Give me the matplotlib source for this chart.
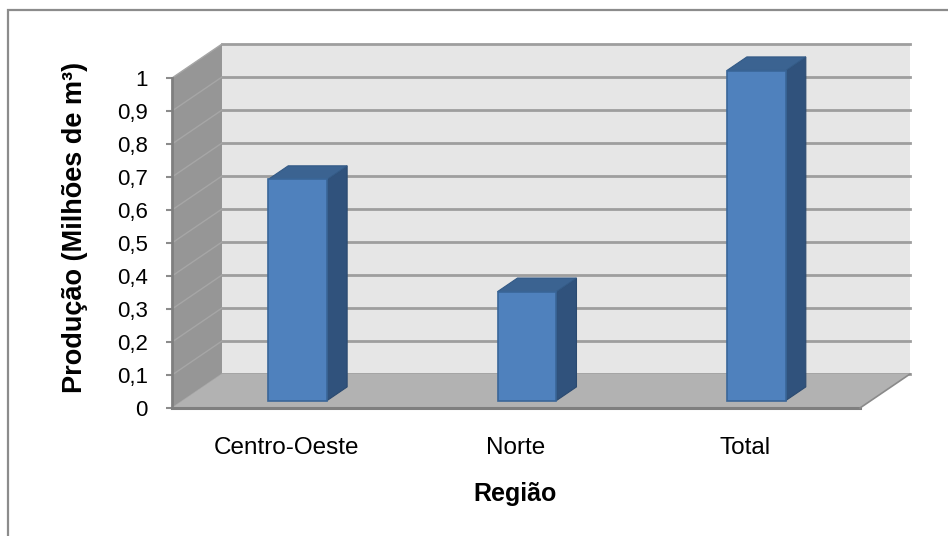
import matplotlib
matplotlib.use("Agg")
import matplotlib.pyplot as plt
from matplotlib.patches import Polygon, Rectangle

plt.rcParams['font.family'] = ['Liberation Sans', 'DejaVu Sans']

categories = ["Centro-Oeste", "Norte", "Total"]
values = [0.67, 0.33, 1.0]
yticks = [0, 0.1, 0.2, 0.3, 0.4, 0.5, 0.6, 0.7, 0.8, 0.9, 1.0]
ytick_labels = ["0", "0,1", "0,2", "0,3", "0,4", "0,5", "0,6", "0,7", "0,8", "0,9", "1"]
y_label = "Produção (Milhões de m³)"
x_label = "Região"

W, H = 948, 536
fig = plt.figure(figsize=(W / 100, H / 100), dpi=100)
fig.patch.set_facecolor("white")

# outer chart border
fig.patches.append(Rectangle((8 / W, -0.1), 1.2, 1 - 10 / H + 0.1, transform=fig.transFigure,
                             fill=False, edgecolor="#8c8c8c", linewidth=1.6, zorder=0))

ax = fig.add_axes([172 / W, 1 - 408 / H, (860 - 172) / W, 330 / H])
ax.set_xlim(-0.5, len(categories) - 0.5)
ax.set_ylim(0, 1)
ax.patch.set_alpha(0)
for s in ax.spines.values():
    s.set_visible(False)

# oblique depth projection
DX = 50 / ((860 - 172) / len(categories))
DY = 34 / 330


def P(x, v, d):
    return (x + d * DX, v + d * DY)


x_lo, x_hi = -0.5, len(categories) - 0.5
kw = dict(clip_on=False)

# back wall
ax.add_patch(Polygon([P(x_lo, 0, 1), P(x_hi, 0, 1), P(x_hi, 1, 1), P(x_lo, 1, 1)],
                     closed=True, facecolor="#e6e6e6", edgecolor="none", zorder=1, **kw))
for v in yticks:
    (xa, ya), (xb, yb) = P(x_lo, v, 1), P(x_hi, v, 1)
    ax.plot([xa, xb], [ya, yb], color="#9e9e9e", lw=2.0, zorder=2, **kw)

# left wall
ax.add_patch(Polygon([P(x_lo, 0, 0), P(x_lo, 0, 1), P(x_lo, 1, 1), P(x_lo, 1, 0)],
                     closed=True, facecolor="#969696", edgecolor="none", zorder=3, **kw))
for v in yticks:
    (xa, ya), (xb, yb) = P(x_lo, v, 0), P(x_lo, v, 1)
    ax.plot([xa, xb], [ya, yb], color="#a6a6a6", lw=1.0, zorder=3.5, **kw)
ax.plot([x_lo, x_lo], [0, 1], color="#7f7f7f", lw=2.0, zorder=4, **kw)

# floor
ax.add_patch(Polygon([P(x_lo, 0, 0), P(x_hi, 0, 0), P(x_hi, 0, 1), P(x_lo, 0, 1)],
                     closed=True, facecolor="#b2b2b2", edgecolor="none", zorder=4, **kw))
ax.plot([x_lo, x_hi], [0, 0], color="#7f7f7f", lw=2.2, zorder=4.5, **kw)
(xa, ya), (xb, yb) = P(x_hi, 0, 0), P(x_hi, 0, 1)
ax.plot([xa, xb], [ya, yb], color="#8a8a8a", lw=1.2, zorder=4.5, **kw)

# bars
bw = 0.257
d0, d1 = 0.22, 0.62
for i, v in enumerate(values):
    x0, x1 = i - bw / 2, i + bw / 2
    z = 6 + i
    ax.add_patch(Polygon([P(x1, 0, d0), P(x1, 0, d1), P(x1, v, d1), P(x1, v, d0)],
                         closed=True, facecolor="#30527c", edgecolor="#2b4a70", lw=0.8, zorder=z, **kw))
    ax.add_patch(Polygon([P(x0, v, d0), P(x1, v, d0), P(x1, v, d1), P(x0, v, d1)],
                         closed=True, facecolor="#3b6391", edgecolor="#335a86", lw=0.8, zorder=z, **kw))
    ax.add_patch(Polygon([P(x0, 0, d0), P(x1, 0, d0), P(x1, v, d0), P(x0, v, d0)],
                         closed=True, facecolor="#4f81bd", edgecolor="#3a6698", lw=1.2, zorder=z + 0.5, **kw))

# axes ticks / labels
ax.set_yticks(yticks)
ax.set_yticklabels(ytick_labels)
ax.tick_params(axis="y", length=4.3, width=1.5, color="#8c8c8c", pad=13, labelsize=16, labelcolor="black")
ax.set_xticks(range(len(categories)))
ax.set_xticklabels(categories)
ax.tick_params(axis="x", length=0, pad=21, labelsize=17.5, labelcolor="black")

fig.text(75 / W, 1 - 227 / H, y_label, rotation=90, ha="center", va="center",
         fontsize=19.5, fontweight="bold")
fig.text(515 / W, 1 - 494 / H, x_label, ha="center", va="center",
         fontsize=18, fontweight="bold")

fig.savefig("out.png", dpi=100)
